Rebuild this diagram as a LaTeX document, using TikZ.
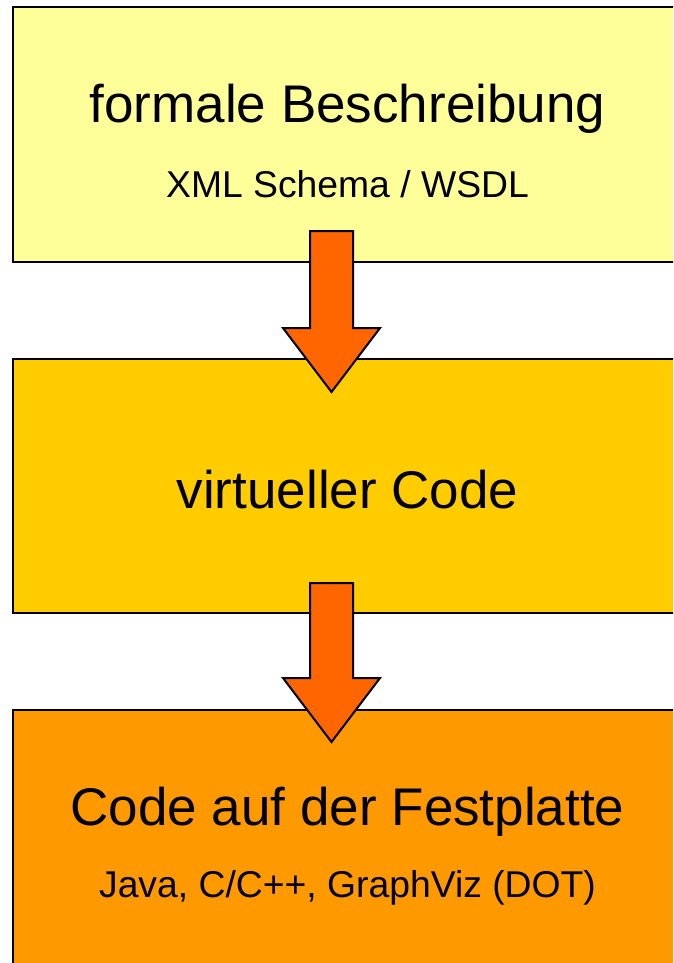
\documentclass[tikz,border=0pt]{standalone}
\usepackage{fontspec}
\setmainfont{Liberation Sans}
\usetikzlibrary{positioning,calc}

\definecolor{formalcolor}{HTML}{FFFF99}
\definecolor{virtualcolor}{HTML}{FFCC00}
\definecolor{diskcolor}{HTML}{FF9900}
\definecolor{arrowcolor}{HTML}{FF6600}

\newcommand\titlefont{\fontsize{53}{60}\selectfont}
\newcommand\subfont{\fontsize{37.3}{44}\selectfont}

\tikzset{
  stage/.style={draw=black, line width=2.5pt, outer sep=0pt,
    minimum width=669pt, minimum height=255pt},
  flowarrow/.style={draw=black, fill=arrowcolor, line width=2pt, line join=miter},
}

% block arrow from the shaft top #1 to the tip #2
\newcommand\blockarrow[2]{%
  \draw[flowarrow] (#2) -- ++(48.5,-64) -- ++(-27,0) |- ($(#1)+(21.5,0)$)
    -- ($(#1)+(-21.5,0)$) |- ($(#2)+(-21.5,-64)$) -- ++(-27,0) -- cycle;
}

\begin{document}
\begin{tikzpicture}[x=1pt, y=-1pt]
\useasboundingbox (0,0) rectangle (673,963);
\clip (0,0) rectangle (673,963);

\node[stage, fill=formalcolor] (formal) at (347.5,134.5) {};
\node[stage, fill=virtualcolor, below=97pt of formal, minimum height=254pt] (virtual) {};
\node[stage, fill=diskcolor, below=97pt of virtual] (disk) {};

\node[anchor=base, inner sep=0pt] (formaltitle) at ($(formal.center)+(0,-12.5)$) {\titlefont formale Beschreibung};
\node[anchor=base, inner sep=0pt] (formalsub) at ($(formal.center)+(0,62.5)$) {\subfont XML Schema / WSDL};

\node[anchor=base, inner sep=0pt] (virtualtitle) at ($(virtual.center)+(0,22.5)$) {\titlefont virtueller Code};

\node[anchor=base, inner sep=0pt] (disktitle) at ($(disk.center)+(0,-12.5)$) {\titlefont Code auf der Festplatte};
\node[anchor=base, inner sep=0pt] (disksub) at ($(disk.center)+(0,59.5)$) {\subfont Java, C/C++, GraphViz (DOT)};

\coordinate (a1top) at ($(formal.south)+(-16,-31)$);
\coordinate (a1tip) at ($(virtual.north)+(-16,33)$);
\coordinate (a2top) at ($(virtual.south)+(-16,-30)$);
\coordinate (a2tip) at ($(disk.north)+(-16,32)$);

\blockarrow{a1top}{a1tip}
\blockarrow{a2top}{a2tip}
\end{tikzpicture}
\end{document}
